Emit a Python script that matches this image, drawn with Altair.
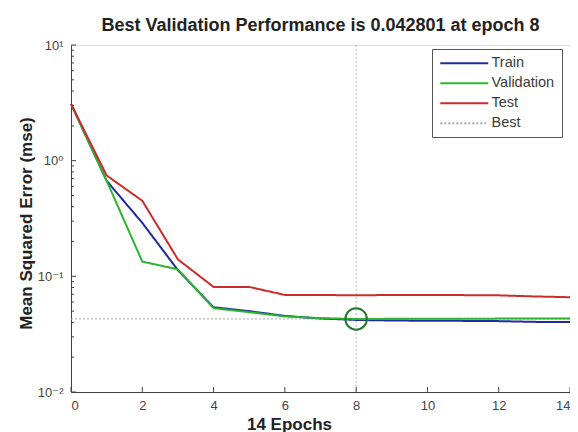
import altair as alt
import pandas as pd

# ---- data ----
epochs = list(range(15))
train = [3.1, 0.67, 0.29, 0.113, 0.054, 0.050, 0.0455, 0.0432, 0.0420, 0.0415,
         0.0413, 0.0412, 0.0410, 0.0404, 0.0402]
validation = [3.1, 0.67, 0.134, 0.115, 0.053, 0.049, 0.0450, 0.0435, 0.042801,
              0.0429, 0.0430, 0.0430, 0.0431, 0.0431, 0.0432]
test = [3.1, 0.745, 0.45, 0.14, 0.081, 0.081, 0.069, 0.069, 0.0685, 0.069,
        0.0688, 0.0688, 0.0685, 0.067, 0.066]

series_names = ["Train", "Validation", "Test", "Best"]
series_colors = ["#1f2a9e", "#2db52d", "#cc2b2b", "#a9a9a9"]
series_dashes = [[1, 0], [1, 0], [1, 0], [2, 2]]

best_epoch = 8
best_value = 0.042801
title_text = f"Best Validation Performance is {best_value} at epoch {best_epoch}"
x_title = "14 Epochs"
y_title = "Mean Squared Error  (mse)"

x_ticks = [0, 2, 4, 6, 8, 10, 12, 14]
y_major = [0.01, 0.1, 1, 10]
y_minor = [k * 10.0 ** e for e in (-2, -1, 0) for k in range(2, 10)]

rows = []
for name, vals in (("Train", train), ("Validation", validation), ("Test", test)):
    for e, v in zip(epochs, vals):
        rows.append({"epoch": e, "mse": v, "series": name})
rows.append({"epoch": epochs[0], "mse": best_value, "series": "Best"})
rows.append({"epoch": epochs[-1], "mse": best_value, "series": "Best"})
df = pd.DataFrame(rows)
best_df = pd.DataFrame({"epoch": [best_epoch], "mse": [best_value]})

W, H = 499, 347
FONT = "Liberation Sans, Arial, DejaVu Sans"
TICK = "#404040"
MAJ, MIN = 5, 3

xs = alt.Scale(domain=[0, 14], nice=False, zero=False)
ys = alt.Scale(type="log", domain=[0.01, 10], nice=False)

color = alt.Color(
    "series:N",
    scale=alt.Scale(domain=series_names, range=series_colors),
    legend=alt.Legend(
        title=None, orient="none", legendX=361, legendY=4,
        symbolType="M-4,0H4", symbolSize=144, symbolStrokeWidth=2,
        symbolOffset=18, labelOffset=20,
        labelFont=FONT, labelFontSize=14.5, labelColor="#3a3a3a",
        rowPadding=5, padding=7, strokeColor="#555555", fillColor="white",
    ),
)
dash = alt.StrokeDash(
    "series:N",
    scale=alt.Scale(domain=series_names, range=series_dashes),
    legend=None,
)

ax_x_labels = alt.Axis(
    values=x_ticks, ticks=False, tickSize=0, labelPadding=7, grid=False,
    labelFont=FONT, labelFontSize=13, labelColor="#444444",
    domainColor=TICK, domainWidth=1,
    title=x_title, titleFont=FONT, titleFontSize=17, titleFontWeight="bold",
    titleColor="#222222", titleX=218, titleY=32, titleBaseline="middle",
    titleAlign="center",
)
ax_y_labels = alt.Axis(
    values=y_major, ticks=False, tickSize=0, labelPadding=8, grid=False,
    labelExpr="datum.value >= 5 ? '10¹' : datum.value >= 0.5 ? '10⁰' : datum.value >= 0.05 ? '10⁻¹' : '10⁻²'",
    labelFont=FONT, labelFontSize=13, labelColor="#444444",
    domainColor=TICK, domainWidth=1,
    title=y_title, titleFont=FONT, titleFontSize=17, titleFontWeight="bold",
    titleColor="#222222", titleX=-45, titleY=178, titleBaseline="middle",
    titleAlign="center", titleAngle=270,
)

# inward tick marks (MATLAB style), placed by the scales from the tick arrays
y_minor_layer = alt.Chart(pd.DataFrame({"v": y_minor})).mark_rule(
    color=TICK, strokeWidth=1, opacity=1
).encode(
    y=alt.Y("v:Q", scale=ys, axis=None),
    x=alt.value(0),
    x2=alt.value(MIN),
)
y_major_layer = alt.Chart(pd.DataFrame({"v": y_major})).mark_rule(
    color=TICK, strokeWidth=1, opacity=1
).encode(
    y=alt.Y("v:Q", scale=ys, axis=None),
    x=alt.value(0),
    x2=alt.value(MAJ),
)
x_ticks_layer = alt.Chart(pd.DataFrame({"v": x_ticks})).mark_rule(
    color=TICK, strokeWidth=1, opacity=1
).encode(
    x=alt.X("v:Q", scale=xs, axis=None),
    y=alt.value(H),
    y2=alt.value(H - MAJ),
)

best_v = alt.Chart(best_df).mark_rule(
    color="#b5b5b5", strokeDash=[2, 2], strokeWidth=1
).encode(x=alt.X("epoch:Q", scale=xs, axis=None))

best_h = alt.Chart(df).transform_filter(alt.datum.series == "Best").mark_line(
    strokeWidth=1
).encode(
    x=alt.X("epoch:Q", scale=xs, axis=None),
    y=alt.Y("mse:Q", scale=ys, axis=None),
    color=color, strokeDash=dash,
)

line_train = alt.Chart(df).transform_filter(alt.datum.series == "Train").mark_line(
    strokeWidth=2
).encode(
    x=alt.X("epoch:Q", scale=xs, axis=ax_x_labels),
    y=alt.Y("mse:Q", scale=ys, axis=ax_y_labels),
    color=color, strokeDash=dash,
)
line_val = alt.Chart(df).transform_filter(alt.datum.series == "Validation").mark_line(
    strokeWidth=2
).encode(
    x=alt.X("epoch:Q", scale=xs, axis=None),
    y=alt.Y("mse:Q", scale=ys, axis=None),
    color=color, strokeDash=dash,
)
line_test = alt.Chart(df).transform_filter(alt.datum.series == "Test").mark_line(
    strokeWidth=2
).encode(
    x=alt.X("epoch:Q", scale=xs, axis=None),
    y=alt.Y("mse:Q", scale=ys, axis=None),
    color=color, strokeDash=dash,
)

circle = alt.Chart(best_df).mark_point(
    shape="circle", filled=False, size=460, strokeWidth=2, color="#23752f", opacity=1
).encode(
    x=alt.X("epoch:Q", scale=xs, axis=None),
    y=alt.Y("mse:Q", scale=ys, axis=None),
)

chart = alt.layer(
    best_v, best_h, y_minor_layer, y_major_layer, x_ticks_layer,
    line_train, line_val, line_test, circle
).resolve_axis(x="independent", y="independent").properties(
    width=W, height=H,
    title=alt.TitleParams(
        title_text, font=FONT, fontSize=18, fontWeight="bold", color="#222222",
        anchor="middle", offset=4,
    ),
    autosize=alt.AutoSizeParams(type="none"),
    padding={"left": 63, "top": 37, "right": 0, "bottom": 40},
).configure_view(stroke=None).configure(background="white")

chart.save("out.html", embed_options={"renderer": "svg", "actions": False})
